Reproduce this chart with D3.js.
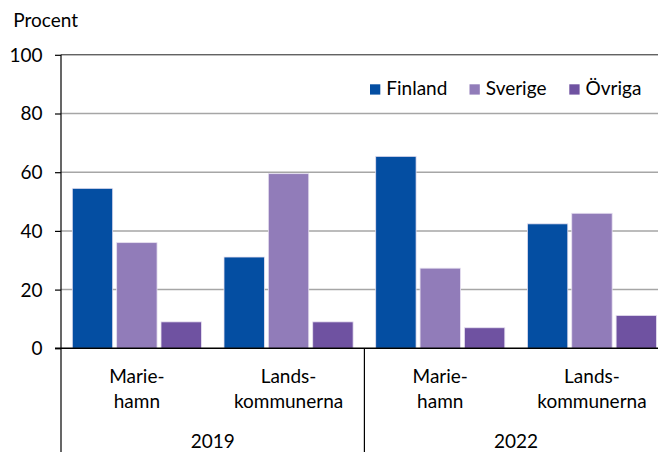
<!DOCTYPE html>
<html><head><meta charset="utf-8">
<script src="https://cdn.jsdelivr.net/npm/d3@7"></script>
<style>
html,body{margin:0;padding:0;background:#fff;}
svg{display:block;}
text{font-family:Lato, "Open Sans", sans-serif;fill:#000;}
</style></head>
<body>
<svg id="c" width="658" height="452"></svg>
<script>
const years = ["2019", "2022"];
const areas = [["Marie-", "hamn"], ["Lands-", "kommunerna"]];
const categories = ["2019|Mariehamn", "2019|Landskommunerna", "2022|Mariehamn", "2022|Landskommunerna"];
const series = ["Finland", "Sverige", "Övriga"];
const finland = [54.5, 31.1, 65.4, 42.4];
const sverige = [36.0, 59.5, 27.3, 46.0];
const ovriga = [9.0, 9.0, 7.0, 11.2];
const yTicks = [0, 20, 40, 60, 80, 100];
const colors = ["#044ea2", "#917cb9", "#6f52a1"];

const values = [finland, sverige, ovriga];
const svg = d3.select("#c");
const left = 61, step = 151.7;
const x0 = d3.scaleBand().domain(categories).range([left, left + step * categories.length]).padding(0);
const x1 = d3.scaleBand().domain(series).range([11.3, 140.4]).paddingInner(0.0895).paddingOuter(0);
const y = d3.scaleLinear().domain([0, 100]).range([348.3, 54.8]);

// gridlines
svg.append("g").selectAll("line").data(yTicks.filter(t => t > 0)).join("line")
  .attr("x1", left).attr("x2", 670)
  .attr("y1", d => y(d)).attr("y2", d => y(d))
  .attr("stroke", d => d === 100 ? "#222" : "#a6a6a6")
  .attr("stroke-width", d => d === 100 ? 1 : 1.5);

// y axis
const yAxis = d3.axisLeft(y).tickValues(yTicks).tickSize(6).tickPadding(12.5).tickFormat(d3.format("d"));
const ga = svg.append("g").attr("transform", `translate(${left},0)`).call(yAxis);
ga.select(".domain").remove();
ga.selectAll(".tick line").attr("stroke", "#000").attr("stroke-width", 1.2);
ga.selectAll(".tick text").attr("font-size", 19).attr("font-family", "Lato").attr("fill", "#000").attr("dy", "0.34em");

// bars
const groups = svg.append("g").selectAll("g").data(categories).join("g")
  .attr("transform", d => `translate(${x0(d)},0)`);
groups.selectAll("rect").data((d, i) => series.map((s, j) => ({s, v: values[j][i], j}))).join("rect")
  .attr("x", d => x1(d.s)).attr("width", x1.bandwidth())
  .attr("y", d => y(d.v)).attr("height", d => y(0) - y(d.v))
  .attr("fill", d => colors[d.j])
  .attr("stroke", "#e6e0f0").attr("stroke-width", 0.8);

// axes lines
svg.append("line").attr("x1", left).attr("x2", left).attr("y1", y(100)).attr("y2", 452).attr("stroke", "#000").attr("stroke-width", 1.2);
svg.append("line").attr("x1", 55).attr("x2", 670).attr("y1", y(0)).attr("y2", y(0)).attr("stroke", "#000").attr("stroke-width", 1.5);
// group separators
[2, 4].forEach(k => {
  const xx = left + step * k;
  svg.append("line").attr("x1", xx).attr("x2", xx).attr("y1", y(0)).attr("y2", 452).attr("stroke", "#000").attr("stroke-width", 1.2);
});

// category labels
categories.forEach((c, i) => {
  const cx = x0(c) + x0.bandwidth() / 2;
  const lines = areas[i % 2];
  lines.forEach((t, k) => {
    svg.append("text").attr("x", cx).attr("y", 382.7 + k * 25).attr("text-anchor", "middle").attr("font-size", 19).text(t);
  });
});
years.forEach((yr, i) => {
  const cx = x0(categories[i * 2]) + x0.bandwidth();
  svg.append("text").attr("x", cx).attr("y", 447.5).attr("text-anchor", "middle").attr("font-size", 19).text(yr);
});

// y title
svg.append("text").attr("x", 13.3).attr("y", 26.7).attr("font-size", 19).text("Procent");

// legend
const legX = [370, 469.5, 569.3];
series.forEach((s, i) => {
  svg.append("rect").attr("x", legX[i]).attr("y", 84.3).attr("width", 10.3).attr("height", 10.3).attr("fill", colors[i]);
  svg.append("text").attr("x", legX[i] + 16.3).attr("y", 95).attr("font-size", 19).text(s);
});
</script>
</body></html>
